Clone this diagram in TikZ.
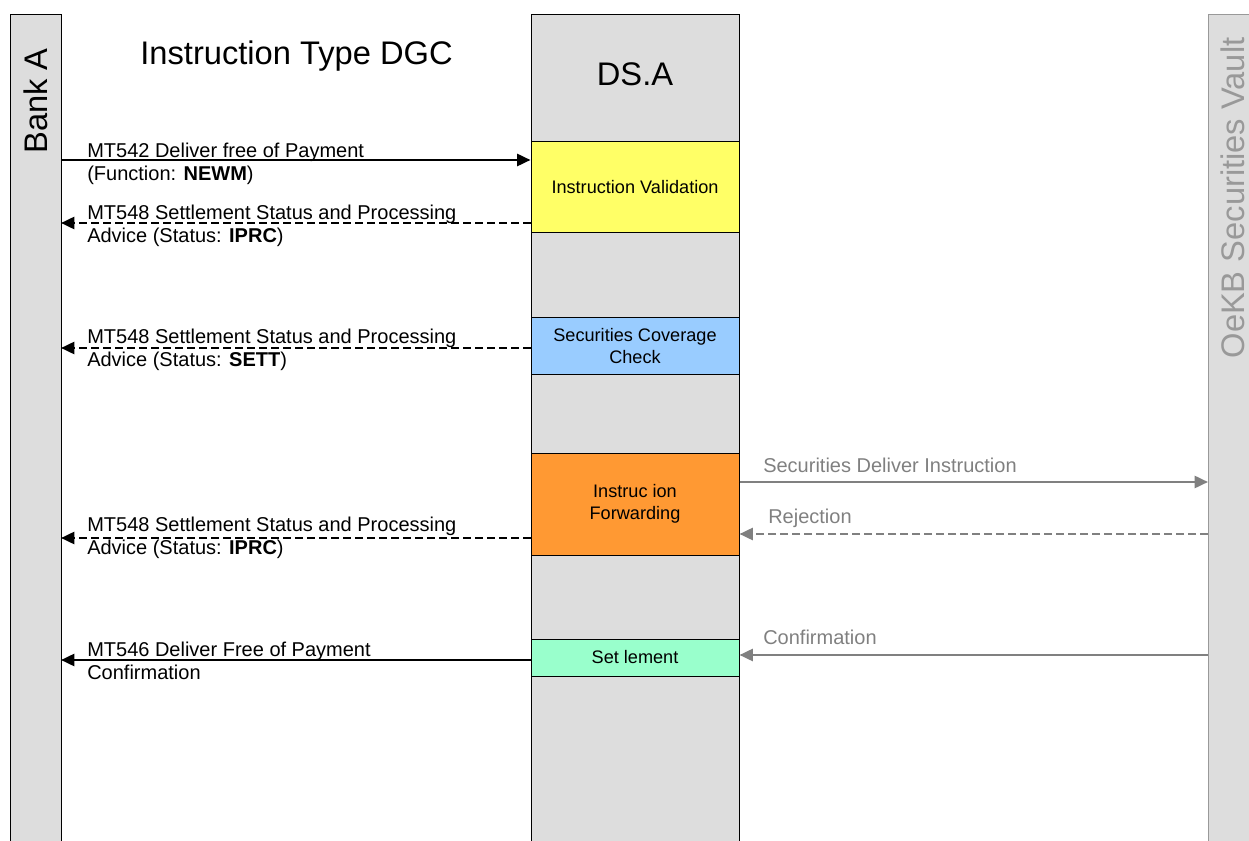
\documentclass[tikz,border=0pt]{standalone}
\usepackage{fontspec}
\setmainfont{Liberation Sans}
\usetikzlibrary{arrows.meta}

\definecolor{lanegray}{HTML}{DDDDDD}
\definecolor{vaultgray}{HTML}{999999}
\definecolor{msggray}{HTML}{808080}
\definecolor{valyellow}{HTML}{FFFF66}
\definecolor{covblue}{HTML}{99CCFF}
\definecolor{fwdorange}{HTML}{FF9933}
\definecolor{setgreen}{HTML}{99FFCC}

\tikzset{
  lane/.style={draw=black, fill=lanegray, line width=0.75pt, inner sep=0pt,
    minimum width=38.25pt, minimum height=622.5pt},
  lanetxt/.style={inner sep=0pt, font=\fontsize{24.5}{28}\selectfont},
  task/.style={draw=black, line width=0.75pt, inner sep=0pt, align=center,
    minimum width=156pt, font=\fontsize{13.6}{16.5}\selectfont},
  lbl/.style={anchor=base west, inner sep=0pt, align=left,
    font=\fontsize{15}{17.25}\selectfont},
  glbl/.style={lbl, text=msggray},
  msg/.style={line width=1.9pt, -{Triangle[length=10pt,width=9pt]}},
  gmsg/.style={msg, draw=msggray},
  dsh/.style={dash pattern=on 6pt off 3pt},
}

\begin{document}
\begin{tikzpicture}[x=0.75pt,y=-0.75pt]
\useasboundingbox (0,0) rectangle (1249,841);

% lanes
\node[lane] (bank) at (35.5,430) {};
\node[lane, minimum width=156pt] (dsa) at (635,430) {};
\node[lane, draw=vaultgray, minimum width=40.5pt] (oekb) at (1235,430) {};

\node[lanetxt, rotate=90] (banktxt) at (36,101) {Bank A};
\node[lanetxt] (dsatxt) at (635,74) {DS.A};
\node[lanetxt, rotate=90, text=vaultgray] (oekbtxt) at (1232.5,198) {OeKB Securities Vault};
\node[lanetxt, anchor=base] (title) at (296.5,65) {Instruction Type DGC};

% processing steps
\node[task, fill=valyellow, minimum height=68.25pt] (val) at (635,187.5) {Instruction Validation};
\node[task, fill=covblue, minimum height=42.75pt] (cov) at (635,346.5) {Securities Coverage\\Check};
\node[task, fill=fwdorange, minimum height=76.5pt] (fwd) at (635,504) {Instruc ion\\Forwarding};
\node[task, fill=setgreen, minimum height=27.75pt] (set) at (635,657.5) {Set lement};

% message points on the lanes
\coordinate (m1) at (61,160);
\coordinate (m2) at (61,223);
\coordinate (m3) at (61,348);
\coordinate (m4) at (61,538);
\coordinate (m5) at (61,660);
\coordinate (r1) at (1208,482);
\coordinate (r2) at (1208,534);
\coordinate (r3) at (1208,655);

% Bank A <-> DS.A
\draw[msg] (m1) -- (m1 -| val.west);
\draw[msg, dsh] (m2 -| val.west) -- (m2);
\draw[msg, dsh] (m3 -| cov.west) -- (m3);
\draw[msg, dsh] (m4 -| fwd.west) -- (m4);
\draw[msg] (m5 -| set.west) -- (m5);

% labels (base = baseline of the second line)
\node[lbl] (l1) at (87,181) {MT542 Deliver free of Payment\\(Function: \textbf{NEWM})};
\node[lbl] (l2) at (87,243) {MT548 Settlement Status and Processing\\Advice (Status: \textbf{IPRC})};
\node[lbl] (l3) at (87,367) {MT548 Settlement Status and Processing\\Advice (Status: \textbf{SETT})};
\node[lbl] (l4) at (87,554) {MT548 Settlement Status and Processing\\Advice (Status: \textbf{IPRC})};
\node[lbl] (l5) at (87,679) {MT546 Deliver Free of Payment\\Confirmation};

% DS.A <-> OeKB
\draw[gmsg] (r1 -| fwd.east) -- (r1);
\draw[gmsg, dsh] (r2) -- (r2 -| fwd.east);
\draw[gmsg] (r3) -- (r3 -| set.east);

\node[glbl] (g1) at (763,472) {Securities Deliver Instruction};
\node[glbl] (g2) at (768,523) {Rejection};
\node[glbl] (g3) at (763,644) {Confirmation};

\end{tikzpicture}
\end{document}
